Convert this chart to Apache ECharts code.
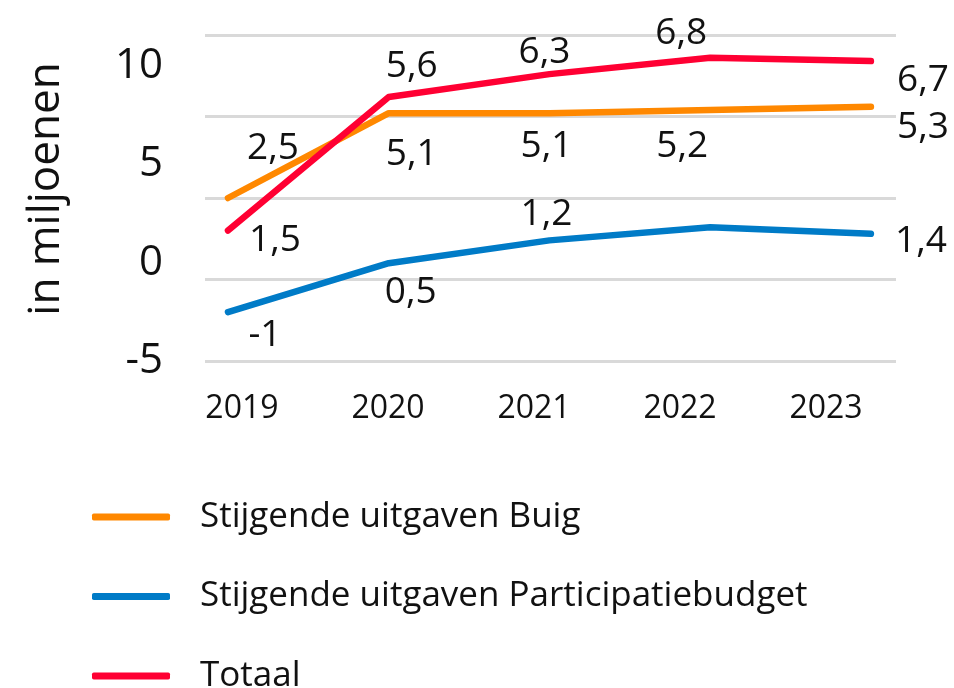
<!DOCTYPE html>
<html>
<head>
<meta charset="utf-8">
<script src="https://cdn.jsdelivr.net/npm/echarts@6/dist/echarts.min.js"></script>
<style>
  html, body { margin: 0; padding: 0; background: #fff; }
  #chart { width: 954px; height: 688px; }
</style>
</head>
<body>
<div id="chart"></div>
<script>
// values (labels use a decimal comma)
const years = [2019, 2020, 2021, 2022, 2023];
const buig = [2.5, 5.1, 5.1, 5.2, 5.3];
const participatie = [-1, 0.5, 1.2, 1.6, 1.4];
const totaal = [1.5, 5.6, 6.3, 6.8, 6.7];
const yTickLabels = [-5, 0, 5, 10];
const seriesNames = [
  "Stijgende uitgaven Buig",
  "Stijgende uitgaven Participatiebudget",
  "Totaal"
];

// where each value label sits relative to its point (null = no label)
const buigLabelShift = [[45, -50], [23, 41], [-3, 33], [-28, 36], [52, 21]];
const participatieLabelShift = [[37, 23], [22, 29], [-3, -26], null, [50, 8]];
const totaalLabelShift = [[47, 10], [23, -30], [-5, -22], [-29, -24], [52, 19]];

const color = ["#FF8800", "#007BC7", "#FF0033"];
const font = "Open Sans";

const fmt = v => String(v).replace(".", ",");

function buildData(values, shifts) {
  return values.map((v, i) => ({
    value: [years[i], v],
    label: shifts[i] ? { offset: shifts[i] } : { show: false }
  }));
}

function lineSeries(name, values, shifts, c) {
  return {
    type: "line",
    name: name,
    data: buildData(values, shifts),
    symbol: "circle",
    symbolSize: 1,
    showSymbol: true,
    itemStyle: { color: c },
    lineStyle: { color: c, width: 6.5, cap: "round", join: "round" },
    label: {
      show: true,
      position: "inside",
      fontFamily: font,
      fontSize: 37,
      color: "#111",
      formatter: p => fmt(p.value[1])
    },
    emphasis: { disabled: true }
  };
}

var chart = echarts.init(document.getElementById("chart"));

var option = {
  animation: false,
  color: color,
  grid: { left: 205, right: 58, top: 35, bottom: 327, outerBoundsMode: "none" },
  legend: {
    orient: "vertical",
    left: 92,
    top: 497,
    height: 320,
    padding: 0,
    icon: "roundRect",
    itemWidth: 78,
    itemHeight: 7,
    itemGap: 39.5,
    data: seriesNames,
    textStyle: {
      fontFamily: font,
      fontSize: 35,
      color: "#111",
      lineHeight: 40,
      padding: [0, 0, 0, 25]
    }
  },
  xAxis: [
    {
      // data axis: places the points
      type: "value",
      position: "bottom",
      min: 2018.857,
      max: 2023.156,
      axisLine: { show: false },
      axisTick: { show: false },
      axisLabel: { show: false },
      splitLine: { show: false }
    },
    {
      // label axis: the year labels sit a bit left of the points
      type: "value",
      position: "bottom",
      min: 2018.747,
      max: 2023.479,
      axisLine: { show: false },
      axisTick: { show: false },
      splitLine: { show: false },
      axisLabel: {
        customValues: years,
        margin: 32,
        fontFamily: font,
        fontSize: 32,
        color: "#111",
        formatter: v => String(v)
      }
    }
  ],
  yAxis: [
    {
      // data axis with the grey gridlines
      type: "value",
      min: -2.5,
      max: 7.5,
      interval: 2.5,
      axisLine: { show: false },
      axisTick: { show: false },
      axisLabel: { show: false },
      splitLine: { show: true, lineStyle: { color: "#D9D9D9", width: 3 } }
    },
    {
      // label axis: -5 .. 10
      type: "value",
      position: "left",
      min: -5,
      max: 11.57,
      interval: 5,
      name: "in miljoenen",
      nameLocation: "middle",
      nameGap: 137,
      nameRotate: 90,
      nameTextStyle: {
        fontFamily: font,
        fontSize: 44,
        color: "#111",
        padding: [0, 0, 0, 18]
      },
      axisLine: { show: false },
      axisTick: { show: false },
      splitLine: { show: false },
      axisLabel: {
        margin: 42,
        showMaxLabel: false,
        fontFamily: font,
        fontSize: 42,
        color: "#111",
        formatter: v => (yTickLabels.indexOf(v) >= 0 ? String(v) : "")
      }
    }
  ],
  series: [
    lineSeries(seriesNames[0], buig, buigLabelShift, color[0]),
    lineSeries(seriesNames[1], participatie, participatieLabelShift, color[1]),
    lineSeries(seriesNames[2], totaal, totaalLabelShift, color[2])
  ]
};

chart.setOption(option);
</script>
</body>
</html>
